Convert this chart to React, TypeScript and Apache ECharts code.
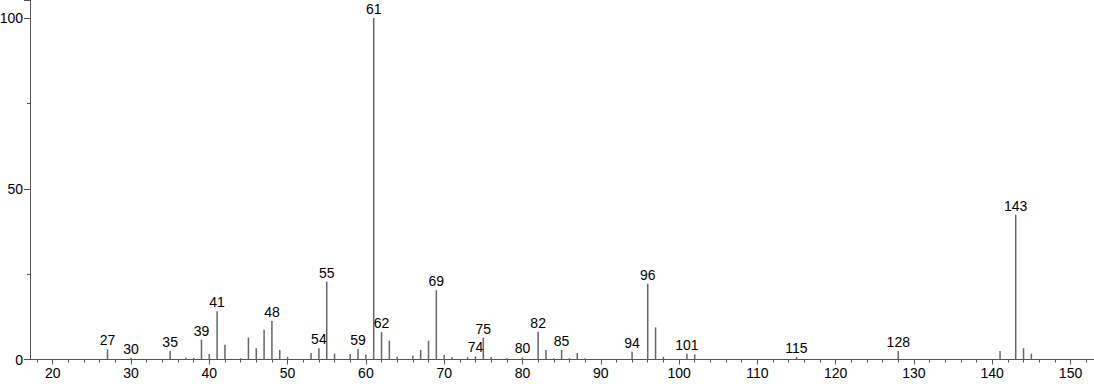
import React, { useEffect, useRef } from "react";
import * as echarts from "echarts";

const mz = [27, 30, 35, 37, 38, 39, 40, 41, 42, 44, 45, 46, 47, 48, 49, 50, 53, 54, 55, 56, 58, 59, 60, 61, 62, 63, 64, 66, 67, 68, 69, 70, 71, 73, 74, 75, 76, 78, 80, 82, 83, 84, 85, 86, 87, 88, 94, 96, 97, 98, 101, 102, 115, 128, 141, 143, 144, 145];
const intensity = [3.0, 0.5, 2.5, 0.5, 0.5, 5.8, 1.6, 14.1, 4.3, 0.4, 6.4, 3.3, 8.7, 11.3, 2.8, 0.8, 1.9, 3.3, 22.8, 1.7, 1.6, 3.1, 1.4, 100, 8.0, 5.5, 0.8, 1.2, 2.8, 5.5, 20.3, 1.3, 0.7, 0.7, 0.9, 6.4, 0.7, 0.4, 0.6, 8.1, 2.8, 0.4, 2.8, 0.4, 1.9, 0.4, 2.3, 22.2, 9.4, 0.8, 1.7, 1.5, 0.7, 2.5, 2.5, 42.4, 3.3, 1.7];
const labeled = [27, 30, 35, 39, 41, 48, 54, 55, 59, 61, 62, 69, 74, 75, 80, 82, 85, 94, 96, 101, 115, 128, 143];
const majorTicks = [20, 30, 40, 50, 60, 70, 80, 90, 100, 110, 120, 130, 140, 150];
const minorTicks = [18, 22, 24, 26, 28, 32, 34, 36, 38, 42, 44, 46, 48, 52, 54, 56, 58, 62, 64, 66, 68, 72, 74, 76, 78, 82, 84, 86, 88, 92, 94, 96, 98, 102, 104, 106, 108, 112, 114, 116, 118, 122, 124, 126, 128, 132, 134, 136, 138, 142, 144, 146, 148, 152];
const yLabels = [0, 50, 100];

const FONT = "Liberation Sans";
const AXIS_COLOR = "#555";

export default function App() {
  const ref = useRef<HTMLDivElement>(null);
  useEffect(() => {
    if (!ref.current) return;
    const chart = echarts.init(ref.current, null, { renderer: "svg" });
    const xMin = 17.1;
    const xMax = 153;
    const data = mz.map((m, i) => ({
      value: [m, intensity[i]],
      label: { show: labeled.includes(m) },
    }));
    chart.setOption({
      animation: false,
      backgroundColor: "#fff",
      grid: { left: 30, right: 0, top: 0, bottom: 24.5, containLabel: false, outerBoundsMode: "none" },
      xAxis: [
        {
          type: "value",
          min: xMin,
          max: xMax,
          axisLine: { show: true, lineStyle: { color: AXIS_COLOR, width: 1 } },
          axisTick: { show: true, inside: false, customValues: majorTicks, length: 5, lineStyle: { color: AXIS_COLOR } },
          axisLabel: { show: true, customValues: majorTicks, color: "#000", fontSize: 14, fontFamily: FONT, margin: 6 },
          splitLine: { show: false },
        },
        {
          type: "value",
          min: xMin,
          max: xMax,
          position: "bottom",
          axisLine: { show: false },
          axisTick: { show: true, inside: false, customValues: minorTicks, length: 3, lineStyle: { color: AXIS_COLOR } },
          axisLabel: { show: false },
          splitLine: { show: false },
        },
      ],
      yAxis: {
        type: "value",
        min: 0,
        max: 105.3,
        interval: 50,
        axisLine: { show: true, lineStyle: { color: AXIS_COLOR, width: 1 } },
        axisTick: { show: true, inside: false, length: 6, lineStyle: { color: AXIS_COLOR } },
        minorTick: { show: true, splitNumber: 2, length: 3, lineStyle: { color: AXIS_COLOR } },
        axisLabel: {
          color: "#000",
          fontSize: 14,
          fontFamily: FONT,
          margin: 7,
          formatter: (v: number) => (yLabels.includes(v) ? String(v) : ""),
        },
        splitLine: { show: false },
      },
      series: [
        {
          type: "bar",
          xAxisIndex: 0,
          data,
          barWidth: 1.5,
          itemStyle: { color: "#666" },
          label: {
            position: "top",
            distance: 2,
            color: "#000",
            fontSize: 14,
            fontFamily: FONT,
            formatter: (p: any) => String(p.value[0]),
          },
        },
      ],
    });
    return () => chart.dispose();
  }, []);
  return (
    <div
      ref={ref}
      style={{ position: "fixed", left: 0, top: 0, width: 1094, height: 384, background: "#fff" }}
    />
  );
}
